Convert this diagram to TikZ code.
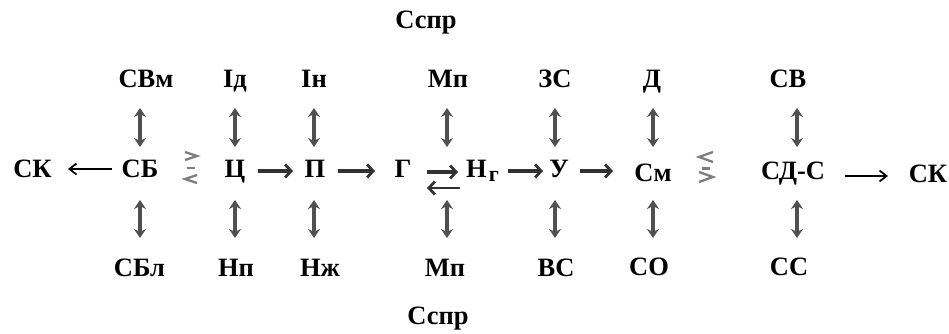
\documentclass[tikz,border=0pt]{standalone}
\usepackage{fontspec}
\setmainfont{Liberation Serif}
\usetikzlibrary{arrows.meta,calc}
\definecolor{vgray}{RGB}{80,80,80}
\definecolor{hgray}{RGB}{50,50,50}
\definecolor{sgray}{RGB}{125,125,125}
\begin{document}
\begin{tikzpicture}[x=1pt,y=1pt,
  lbl/.style={inner sep=0pt, anchor=base, font=\fontsize{26.5}{28}\selectfont\bfseries},
  varr/.style={draw=vgray, line width=3.6pt, {Stealth[length=9pt,width=12pt]}-{Stealth[length=9pt,width=12pt]}},
  harr/.style={draw=hgray, line width=3.4pt, -{Straight Barb[length=6pt,width=13pt,line width=2.8pt]}},
  tarr/.style={draw=black, line width=1.8pt, -{Straight Barb[length=7pt,width=11pt,line width=1.8pt]}},
  cmpsym/.style={draw=sgray, line width=2.3pt}]
\useasboundingbox (0,0) rectangle (949,334);
% top labels
\node[lbl] (S1) at (426,305) {Сспр};
\node[lbl] (S2) at (438,9) {Сспр};
% top row
\node[lbl] (T1) at (146,246) {СВм};
\node[lbl] (T2) at (235,246) {Ід};
\node[lbl] (T3) at (314,246) {Ін};
\node[lbl] (T4) at (448,246) {Мп};
\node[lbl] (T5) at (555,246) {ЗС};
\node[lbl] (T6) at (652,246) {Д};
\node[lbl] (T7) at (788,246) {СВ};
% middle row
\node[lbl] (K1) at (32.5,156) {СК};
\node[lbl] (M1) at (140,156) {СБ};
\node[lbl] (M2) at (235,156) {Ц};
\node[lbl] (M3) at (315,156) {П};
\node[lbl] (G) at (403,156) {Г};
\node[lbl, anchor=base west] (N) at (466,156) {Н\kern2pt\raisebox{-4pt}{\fontsize{22}{22}\selectfont г}};
\node[lbl] (M5) at (559,156) {У};
\node[lbl] (M6) at (653,152) {См};
\node[lbl] (M7) at (793,154) {СД-С};
\node[lbl] (K2) at (928,151) {СК};
% bottom row
\node[lbl] (B1) at (139.5,57) {СБл};
\node[lbl] (B2) at (236,57) {Нп};
\node[lbl] (B3) at (320,57) {Нж};
\node[lbl] (B4) at (445,57) {Мп};
\node[lbl] (B5) at (556,57) {ВС};
\node[lbl] (B6) at (649,58) {СО};
\node[lbl] (B7) at (789,58) {СС};
% vertical arrows (top)
\draw[varr] ($(M1.base |- T1.base)+(0,-20)$) -- ($(M1.base)+(0,31)$);
\draw[varr] ($(M2.base |- T2.base)+(0,-20)$) -- ($(M2.base)+(0,31)$);
\draw[varr] ($(M3.base |- T3.base)+(-1,-20)$) -- ($(M3.base)+(-1,31)$);
\draw[varr] ($(N.base west |- T4.base)+(-19,-20)$) -- ($(N.base west)+(-19,31)$);
\draw[varr] ($(M5.base |- T5.base)+(-4,-20)$) -- ($(M5.base)+(-4,31)$);
\draw[varr] ($(M6.base |- T6.base)+(0,-20)$) -- ($(M6.base)+(0,35)$);
\draw[varr] ($(M7.base |- T7.base)+(4,-20)$) -- ($(M7.base)+(4,33)$);
% vertical arrows (bottom)
\draw[varr] ($(M1.base)+(0,-22)$) -- ($(M1.base |- B1.base)+(0,39)$);
\draw[varr] ($(M2.base)+(0,-22)$) -- ($(M2.base |- B2.base)+(0,39)$);
\draw[varr] ($(M3.base)+(-1,-22)$) -- ($(M3.base |- B3.base)+(-1,39)$);
\draw[varr] ($(N.base west)+(-19,-22)$) -- ($(N.base west |- B4.base)+(-19,39)$);
\draw[varr] ($(M5.base)+(-4,-22)$) -- ($(M5.base |- B5.base)+(-4,39)$);
\draw[varr] ($(M6.base)+(0,-18)$) -- ($(M6.base |- B6.base)+(0,38)$);
\draw[varr] ($(M7.base)+(4,-20)$) -- ($(M7.base |- B7.base)+(4,38)$);
% horizontal arrows
\draw[tarr] ($(M1.base)+(-28,9)$) -- ($(K1.base)+(35.5,9)$);
\draw[harr] ($(M2.base)+(23,7)$) -- ($(M3.base)+(-22,7)$);
\draw[harr] ($(M3.base)+(23,7)$) -- ($(G.base)+(-28,7)$);
\draw[harr] ($(G.base)+(24,6)$) -- ($(N.base west)+(-8,6)$);
\draw[harr, line width=2.8pt] ($(N.base west)+(-6,-10)$) -- ($(G.base)+(24,-10)$);
\draw[harr] ($(N.base west)+(42,7)$) -- ($(M5.base)+(-16,7)$);
\draw[harr] ($(M5.base)+(21,7)$) -- ($(M6.base)+(-40,11)$);
\draw[tarr] ($(M7.base)+(52,4)$) -- ($(K2.base)+(-40,7)$);
% comparison symbols
\draw[cmpsym] (185,182) -- (197,178) -- (185,174);
\draw[cmpsym] (187,166) -- (195,166);
\draw[cmpsym] (197,159) -- (185,155) -- (197,151);
\draw[cmpsym] (713,182) -- (699,177) -- (713,172);
\draw[cmpsym] (702,165.5) -- (710,165.5);
\draw[cmpsym] (699,162) -- (713,157) -- (699,152);
\end{tikzpicture}
\end{document}
